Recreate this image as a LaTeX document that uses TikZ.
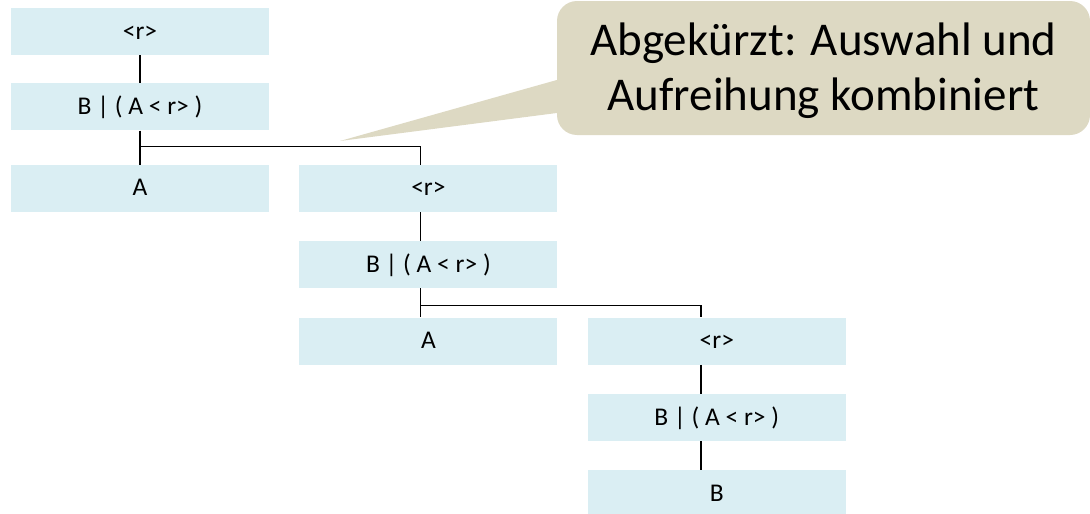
\documentclass[tikz,border=0pt]{standalone}
\usepackage{fontspec}
\setmainfont{Carlito}
\usetikzlibrary{positioning,calc}
\definecolor{boxblue}{HTML}{DAEEF3}
\definecolor{notetan}{HTML}{DDD9C3}
\tikzset{rule/.style={draw,black,line width=1.6pt}}
\tikzstyle{gbox}=[rectangle, fill=boxblue, inner sep=0pt, minimum width=258pt, minimum height=47pt, text height=17pt, text depth=2pt, font=\fontsize{25.5}{30}\selectfont]

\begin{document}
\begin{tikzpicture}[x=1pt, y=-1pt]
\useasboundingbox (0,0) rectangle (1090,514);
% first level
\node[gbox] (r1) at (140,31.5) {<r>};
\node[gbox][below=28pt of r1] (b1) {B | ( A < r>~)};
\node[gbox][below=34pt of b1] (a1) {A};
% second level
\node[gbox][right=30pt of a1] (r2) {<r>};
\node[gbox][below=29pt of r2] (b2) {B | ( A < r>~)};
\node[gbox][below=29pt of b2] (a2) {A};
% third level
\node[gbox][right=30pt of a2] (r3) {<r>};
\node[gbox][below=29pt of r3] (b3) {B | ( A < r>~)};
\node[gbox][below=29pt of b3] (leaf) {B};
% branch points
\coordinate (j1) at ($(b1.south)!0.47!(a1.north)$);
\coordinate (j2) at ([xshift=-8pt]$(b2.south)!0.59!(a2.north)$);
\path[rule] (r1) -- (b1)
	(b1) -- (a1)
	(j1) -| ([xshift=-8pt]r2.north)
	([xshift=-8pt]r2.south) -- ([xshift=-8pt]b2.north)
	([xshift=-8pt]b2.south) -- ([xshift=-8pt]a2.north)
	(j2) -| ([xshift=-16pt]r3.north)
	([xshift=-16pt]r3.south) -- ([xshift=-16pt]b3.north)
	([xshift=-16pt]b3.south) -- ([xshift=-16pt]leaf.north);
% speech bubble
\coordinate (tip) at (340,141);
\node[fill=notetan, rounded corners=20pt, minimum width=533pt, minimum height=134pt, text height=90pt, text depth=6pt, align=center, font=\fontsize{47}{55}\selectfont] (note) at (823.5,68) {Abgekürzt: Auswahl und\\Aufreihung kombiniert};
\fill[notetan] ([yshift=-12pt]note.west) -- (tip) -- ([yshift=-45pt]note.west) -- cycle;
\end{tikzpicture}
\end{document}
